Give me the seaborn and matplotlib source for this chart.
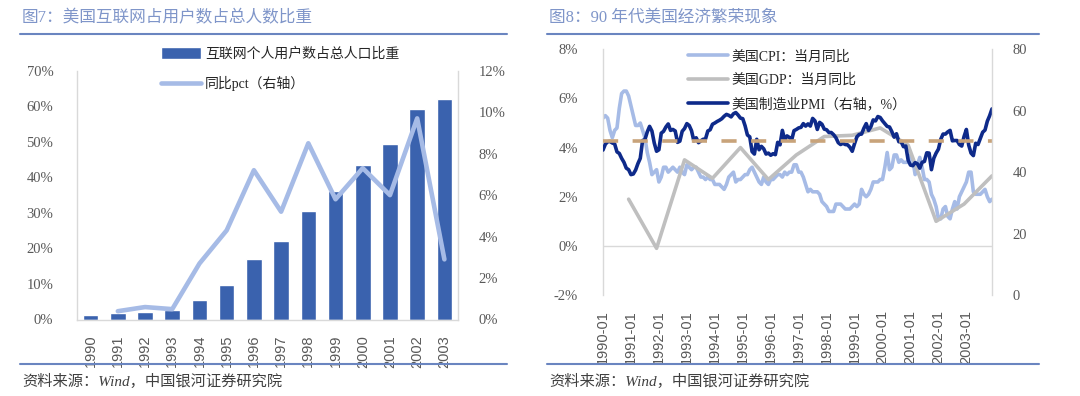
import numpy as np
import pandas as pd
import seaborn as sns
import matplotlib.pyplot as plt
from matplotlib.lines import Line2D
from matplotlib.ticker import FuncFormatter

# ---- data: figure 7 (annual) ----
years = ['1990', '1991', '1992', '1993', '1994', '1995', '1996',
         '1997', '1998', '1999', '2000', '2001', '2002', '2003']
internet_share = [1.2, 1.7, 2.2, 2.8, 5.4, 9.8, 16.9, 22.1, 30.6, 36.2, 43.6, 49.4, 59.1, 62.1]
internet_yoy = [np.nan, 0.4, 0.6, 0.5, 2.7, 4.3, 7.2, 5.2, 8.5, 5.8, 7.3, 6.0, 9.7, 2.9]

# ---- data: figure 8 (monthly 1990-01 .. 2003-12) ----
months = [str(p) for p in pd.period_range('1990-01', '2003-12', freq='M')]
cpi_yoy = [
    5.2, 5.3, 5.2, 4.7, 4.4, 4.7, 4.8, 5.6, 6.2, 6.3, 6.3, 6.1,
    5.7, 5.3, 4.9, 4.9, 5.0, 4.7, 4.4, 3.8, 3.4, 2.9, 3.0, 3.1,
    2.6, 2.8, 3.2, 3.2, 3.0, 3.1, 3.2, 3.1, 3.0, 3.2, 3.0, 2.9,
    3.3, 3.2, 3.1, 3.2, 3.2, 3.0, 2.8, 2.8, 2.7, 2.8, 2.7, 2.7,
    2.5, 2.5, 2.5, 2.4, 2.3, 2.5, 2.8, 2.9, 3.0, 2.6, 2.7, 2.7,
    2.8, 2.9, 2.9, 3.1, 3.2, 3.0, 2.8, 2.6, 2.5, 2.8, 2.6, 2.5,
    2.7, 2.7, 2.8, 2.9, 2.9, 2.8, 3.0, 2.9, 3.0, 3.0, 3.3, 3.3,
    3.0, 3.0, 2.8, 2.5, 2.2, 2.3, 2.2, 2.2, 2.2, 2.1, 1.8, 1.7,
    1.6, 1.4, 1.4, 1.4, 1.7, 1.7, 1.7, 1.6, 1.5, 1.5, 1.5, 1.6,
    1.7, 1.6, 1.7, 2.3, 2.1, 2.0, 2.1, 2.3, 2.6, 2.6, 2.6, 2.7,
    2.7, 3.2, 3.8, 3.1, 3.2, 3.7, 3.7, 3.4, 3.5, 3.4, 3.4, 3.4,
    3.7, 3.5, 2.9, 3.3, 3.6, 3.2, 2.7, 2.7, 2.6, 2.1, 1.9, 1.6,
    1.1, 1.1, 1.5, 1.6, 1.2, 1.1, 1.5, 1.8, 1.5, 2.0, 2.2, 2.4,
    2.6, 3.0, 3.0, 2.2, 2.1, 2.1, 2.1, 2.2, 2.3, 2.0, 1.8, 1.9,
]
pmi = [
    47.2, 49.1, 49.9, 50.0, 49.5, 49.2, 46.6, 46.1, 44.5, 43.2, 41.3, 40.8,
    39.2, 39.4, 40.7, 42.8, 44.5, 50.3, 50.6, 53.1, 54.9, 53.4, 49.5, 46.8,
    47.3, 52.7, 53.3, 54.7, 55.7, 53.6, 53.9, 53.4, 49.7, 50.1, 53.3, 54.2,
    55.8, 55.2, 53.5, 50.2, 51.2, 49.6, 50.2, 50.7, 50.8, 53.4, 53.8, 55.6,
    56.0, 56.5, 56.9, 57.4, 58.2, 58.8, 58.5, 58.0, 59.0, 59.4, 58.6, 57.6,
    57.4, 55.1, 52.1, 51.5, 46.7, 45.9, 50.7, 47.3, 48.4, 47.6, 45.9, 46.2,
    45.5, 46.0, 45.7, 49.7, 48.9, 53.6, 50.5, 51.8, 51.3, 50.5, 53.5, 53.9,
    54.4, 54.6, 55.8, 55.0, 55.7, 55.0, 57.5, 56.7, 53.9, 56.2, 55.6, 54.0,
    53.8, 52.9, 52.9, 52.2, 51.2, 49.6, 49.0, 49.4, 49.0, 48.9, 48.1, 46.8,
    49.3, 51.5, 52.3, 52.4, 54.3, 55.8, 53.6, 54.8, 57.0, 56.7, 58.1, 57.8,
    56.7, 55.8, 54.9, 54.7, 53.2, 51.4, 52.5, 49.9, 49.9, 48.3, 48.5, 43.9,
    42.3, 42.1, 43.1, 42.7, 41.3, 43.2, 43.5, 46.3, 46.2, 40.8, 44.5, 46.2,
    47.5, 50.7, 52.4, 52.4, 53.1, 53.6, 50.2, 50.3, 50.3, 49.0, 48.5, 51.6,
    53.9, 48.8, 46.2, 45.4, 49.4, 49.0, 51.0, 53.0, 53.7, 56.6, 58.4, 60.6,
]
gdp_months = ['1990-12', '1991-12', '1992-12', '1993-12', '1994-12', '1995-12', '1996-12',
              '1997-12', '1998-12', '1999-12', '2000-12', '2001-12', '2002-12', '2003-12']
gdp_yoy = [1.9, -0.1, 3.5, 2.75, 4.0, 2.7, 3.7, 4.45, 4.5, 4.8, 4.1, 1.0, 1.7, 2.85]
pmi_line = 50

# ---- colours ----
BAR = '#3A62AE'
LIGHT = '#A6BBE6'
GRAY = '#BFBFBF'
NAVY = '#0E2A8A'
TAN = '#C8A37A'
RULE = '#6A85C0'
TITLE = '#7F95C9'
TICK = '#595959'
SPINE = '#D9D9D9'

sns.set_theme(style='white')
plt.rcParams['font.family'] = ['Liberation Serif', 'Noto Sans CJK SC']
plt.rcParams['axes.unicode_minus'] = False

fig = plt.figure(figsize=(10.8, 3.96), dpi=100)
W, H = 1080, 396


def box(x0, y0, x1, y1):
    return [x0 / W, 1 - y1 / H, (x1 - x0) / W, (y1 - y0) / H]


def style_axes(ax, left=True, right=True, bottom=True):
    for s in ['top', 'left', 'right', 'bottom']:
        ax.spines[s].set_visible(False)
    for s, v in [('left', left), ('right', right), ('bottom', bottom)]:
        if v:
            ax.spines[s].set_visible(True)
            ax.spines[s].set_color(SPINE)
            ax.spines[s].set_linewidth(1.0)
    ax.tick_params(length=0, colors=TICK, labelsize=10.5)
    ax.grid(False)
    ax.set_xlabel('')
    ax.set_ylabel('')


pct = FuncFormatter(lambda v, p: f'{v:.0f}%')

# ================= figure 7 =================
ax1 = fig.add_axes(box(77, 70.7, 458, 319.5))
sns.barplot(x=years, y=internet_share, color=BAR, saturation=1, width=0.57, ax=ax1,
            label='互联网个人用户数占总人口比重')
ax1b = ax1.twinx()
sns.lineplot(x=years, y=internet_yoy, color=LIGHT, lw=3.3, ax=ax1b, label='同比pct（右轴）')
ax1.set_xlim(-0.5, 13.5)
ax1.set_ylim(0, 70)
ax1.set_yticks(range(0, 71, 10))
ax1.yaxis.set_major_formatter(pct)
ax1b.set_ylim(0, 12)
ax1b.set_yticks(range(0, 13, 2))
ax1b.yaxis.set_major_formatter(pct)
style_axes(ax1, right=False)
style_axes(ax1b, left=False, bottom=False)
ax1.tick_params(axis='y', pad=17)
ax1b.tick_params(axis='y', pad=15)
ax1.tick_params(axis='x', pad=11)
ax1.set_xticks(range(len(years)))
ax1.set_xticklabels(years, rotation=90, family='Liberation Sans', fontsize=10.5, color=TICK)
ax1b.legend_.remove()
h1, l1 = ax1.get_legend_handles_labels()
h2, l2 = ax1b.get_legend_handles_labels()
fig.legend(h1 + h2, l1 + l2, loc='upper left', bbox_to_anchor=(161 / W, 1 - 47 / H),
           frameon=False, fontsize=10, handlelength=2.9, handleheight=0.9,
           handletextpad=0.25, labelspacing=1.1, borderpad=0, borderaxespad=0)
if ax1.legend_:
    ax1.legend_.remove()

# ================= figure 8 =================
ax2 = fig.add_axes(box(603, 49.3, 992, 295))
df8 = pd.DataFrame({'idx': range(len(months)), 'cpi': cpi_yoy, 'pmi': pmi})
gdp_idx = [months.index(m) for m in gdp_months]
sns.lineplot(x='idx', y='cpi', data=df8, color=LIGHT, lw=2.6, ax=ax2, label='美国CPI：当月同比')
sns.lineplot(x=gdp_idx, y=gdp_yoy, color=GRAY, lw=2.6, ax=ax2, label='美国GDP：当月同比')
ax2.axhline(0, color=SPINE, lw=1.0, zorder=0)
ax2b = ax2.twinx()
sns.lineplot(x='idx', y='pmi', data=df8, color=NAVY, lw=2.6, ax=ax2b, label='美国制造业PMI（右轴，%）')
ax2b.axhline(pmi_line, color=TAN, lw=2.6, ls=(0, (4.2, 4.0)))
ax2.set_xlim(0, len(months) - 1)
ax2.set_ylim(-2, 8)
ax2.set_yticks(range(-2, 9, 2))
ax2.yaxis.set_major_formatter(pct)
ax2b.set_ylim(0, 80)
ax2b.set_yticks(range(0, 81, 20))
style_axes(ax2, right=False, bottom=False)
style_axes(ax2b, left=False, bottom=False)
ax2.tick_params(axis='y', pad=18)
ax2b.tick_params(axis='y', pad=15)
ax2.tick_params(axis='x', pad=11)
ax2.set_xticks(range(0, len(months), 12))
ax2.set_xticklabels(months[::12], rotation=90, family='Liberation Sans', fontsize=10.5, color=TICK)
h1, l1 = ax2.get_legend_handles_labels()
h2, l2 = ax2b.get_legend_handles_labels()
for a in (ax2, ax2b):
    if a.legend_:
        a.legend_.remove()
fig.legend(h1 + h2, l1 + l2, loc='upper left', bbox_to_anchor=(688 / W, 1 - 50 / H),
           frameon=False, fontsize=10, handlelength=2.9, handletextpad=0.25,
           labelspacing=0.75, borderpad=0, borderaxespad=0)

# ================= titles, rules, sources =================
for x0, x1, title in [(20, 507, '图7：美国互联网占用户数占总人数比重'),
                      (547, 1039, '图8：90 年代美国经济繁荣现象')]:
    fig.text((x0 + 2) / W, 1 - 18 / H, title, color=TITLE, fontsize=12, va='center', ha='left')
    fig.add_artist(Line2D([x0 / W, x1 / W], [1 - 34 / H, 1 - 34 / H], color=RULE, lw=1.5))
    fig.add_artist(Line2D([x0 / W, x1 / W], [1 - 364 / H, 1 - 364 / H], color=RULE, lw=1.5))
    fig.text((x0 + 2) / W, 1 - 381 / H, '资料来源：Wind，中国银河证券研究院', color='#404040',
             fontsize=11, style='italic', va='center', ha='left')

fig.savefig('out.png', dpi=100)
